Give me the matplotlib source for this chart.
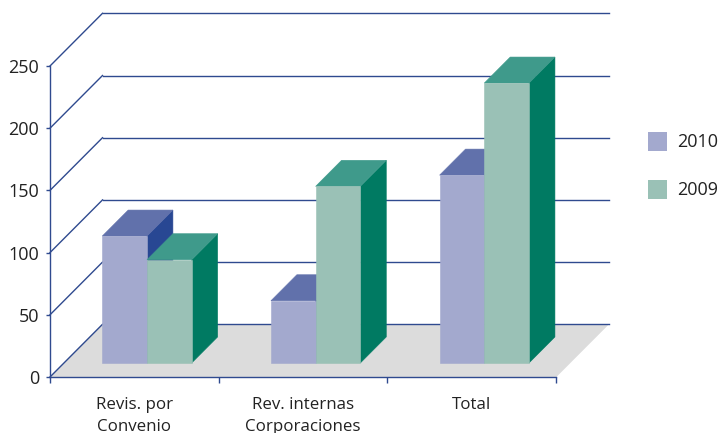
import matplotlib
matplotlib.use("Agg")
import matplotlib.pyplot as plt
from matplotlib.patches import Polygon, Patch

plt.rcParams["font.family"] = ["Open Sans", "DejaVu Sans"]

categories = ["Revis. por\nConvenio", "Rev. internas\nCorporaciones", "Total"]
series_names = ["2010", "2009"]
values_2010 = [102, 50, 151]
values_2009 = [83, 142, 225]
y_ticks = [0, 50, 100, 150, 200, 250]

LINE = "#2f4a8f"
FLOOR = "#dcdcdc"
COL_2010 = ("#a3a9ce", "#6171ab", "#284793")
COL_2009 = ("#9ac1b6", "#3f9a8b", "#007a62")

W, H = 720, 433
fig = plt.figure(figsize=(W / 100, H / 100), dpi=100)
ax = fig.add_axes([50 / W, (H - 377) / H, 506 / W, 311 / H])
ax.set_xlim(0, 3)
ax.set_ylim(0, 250)

# depth of the box, in data units per unit of z
dx = 52.5 / (506 / 3)
dy = 52.7 / (311 / 250)


def proj(x, v, z):
    return (x + z * dx, v + z * dy)


def poly(pts, color, zorder, edge=None):
    ax.add_patch(Polygon(pts, closed=True, facecolor=color, edgecolor=edge or color,
                         linewidth=0.4, clip_on=False, zorder=zorder))


def bar3d(x0, width, v, colors, zorder):
    x1 = x0 + width
    z0, z1 = 0.266, 0.76
    # side, top, then front face
    poly([proj(x1, 0, z0), proj(x1, 0, z1), proj(x1, v, z1), proj(x1, v, z0)], colors[2], zorder)
    poly([proj(x0, v, z0), proj(x1, v, z0), proj(x1, v, z1), proj(x0, v, z1)], colors[1], zorder)
    poly([proj(x0, 0, z0), proj(x1, 0, z0), proj(x1, v, z0), proj(x0, v, z0)], colors[0], zorder)


# floor
poly([proj(0, 0, 0), proj(3, 0, 0), proj(3, 0, 1), proj(0, 0, 1)], FLOOR, 1)

# back wall grid and side wall diagonals
for t in y_ticks:
    a = proj(0, t, 0)
    b = proj(0, t, 1)
    c = proj(3, t, 1)
    ax.plot([a[0], b[0]], [a[1], b[1]], color=LINE, lw=1.0, clip_on=False, zorder=2)
    ax.plot([b[0], c[0]], [b[1], c[1]], color=LINE, lw=1.0, clip_on=False, zorder=2)

bar_w = 44.7 / (506 / 3)
bar_start = 38.3 / (506 / 3)
for i in range(len(categories)):
    # left bar is further along x so it is painted first
    x = i + bar_start
    bar3d(x, bar_w, values_2010[i], COL_2010, 3 + i * 0.1)
    bar3d(x + bar_w, bar_w, values_2009[i], COL_2009, 3.05 + i * 0.1)

for s in ["top", "right"]:
    ax.spines[s].set_visible(False)
for s in ["left", "bottom"]:
    ax.spines[s].set_color(LINE)
    ax.spines[s].set_linewidth(1.0)
    ax.spines[s].set_zorder(6)
ax.patch.set_visible(False)

ax.set_yticks(y_ticks)
ax.tick_params(axis="y", length=3, width=1, color=LINE, pad=5, labelsize=13, labelcolor="#222222")
ax.set_xticks([0, 1, 2, 3])
ax.set_xticklabels([])
ax.tick_params(axis="x", which="major", length=4, width=1, color=LINE)
ax.set_xticks([0.5, 1.5, 2.5], minor=True)
ax.set_xticklabels(categories, minor=True, fontsize=12.2, color="#222222", linespacing=1.5)
ax.tick_params(axis="x", which="minor", length=0, pad=14.2)

handles = [Patch(facecolor=COL_2010[0], label=series_names[0]),
           Patch(facecolor=COL_2009[0], label=series_names[1])]
fig.legend(handles=handles, loc="upper left", bbox_to_anchor=(635 / W, 1 - 120 / H),
           frameon=False, fontsize=13, handlelength=1.05, handleheight=1.05,
           handletextpad=0.6, labelspacing=1.6, borderpad=0.2, labelcolor="#222222")

# legend swatches are square in pixels
for h in fig.legends[0].legend_handles:
    h.set_height(13.7)
    h.set_y(h.get_y() - 1.5)

fig.savefig("out.png", dpi=100)
